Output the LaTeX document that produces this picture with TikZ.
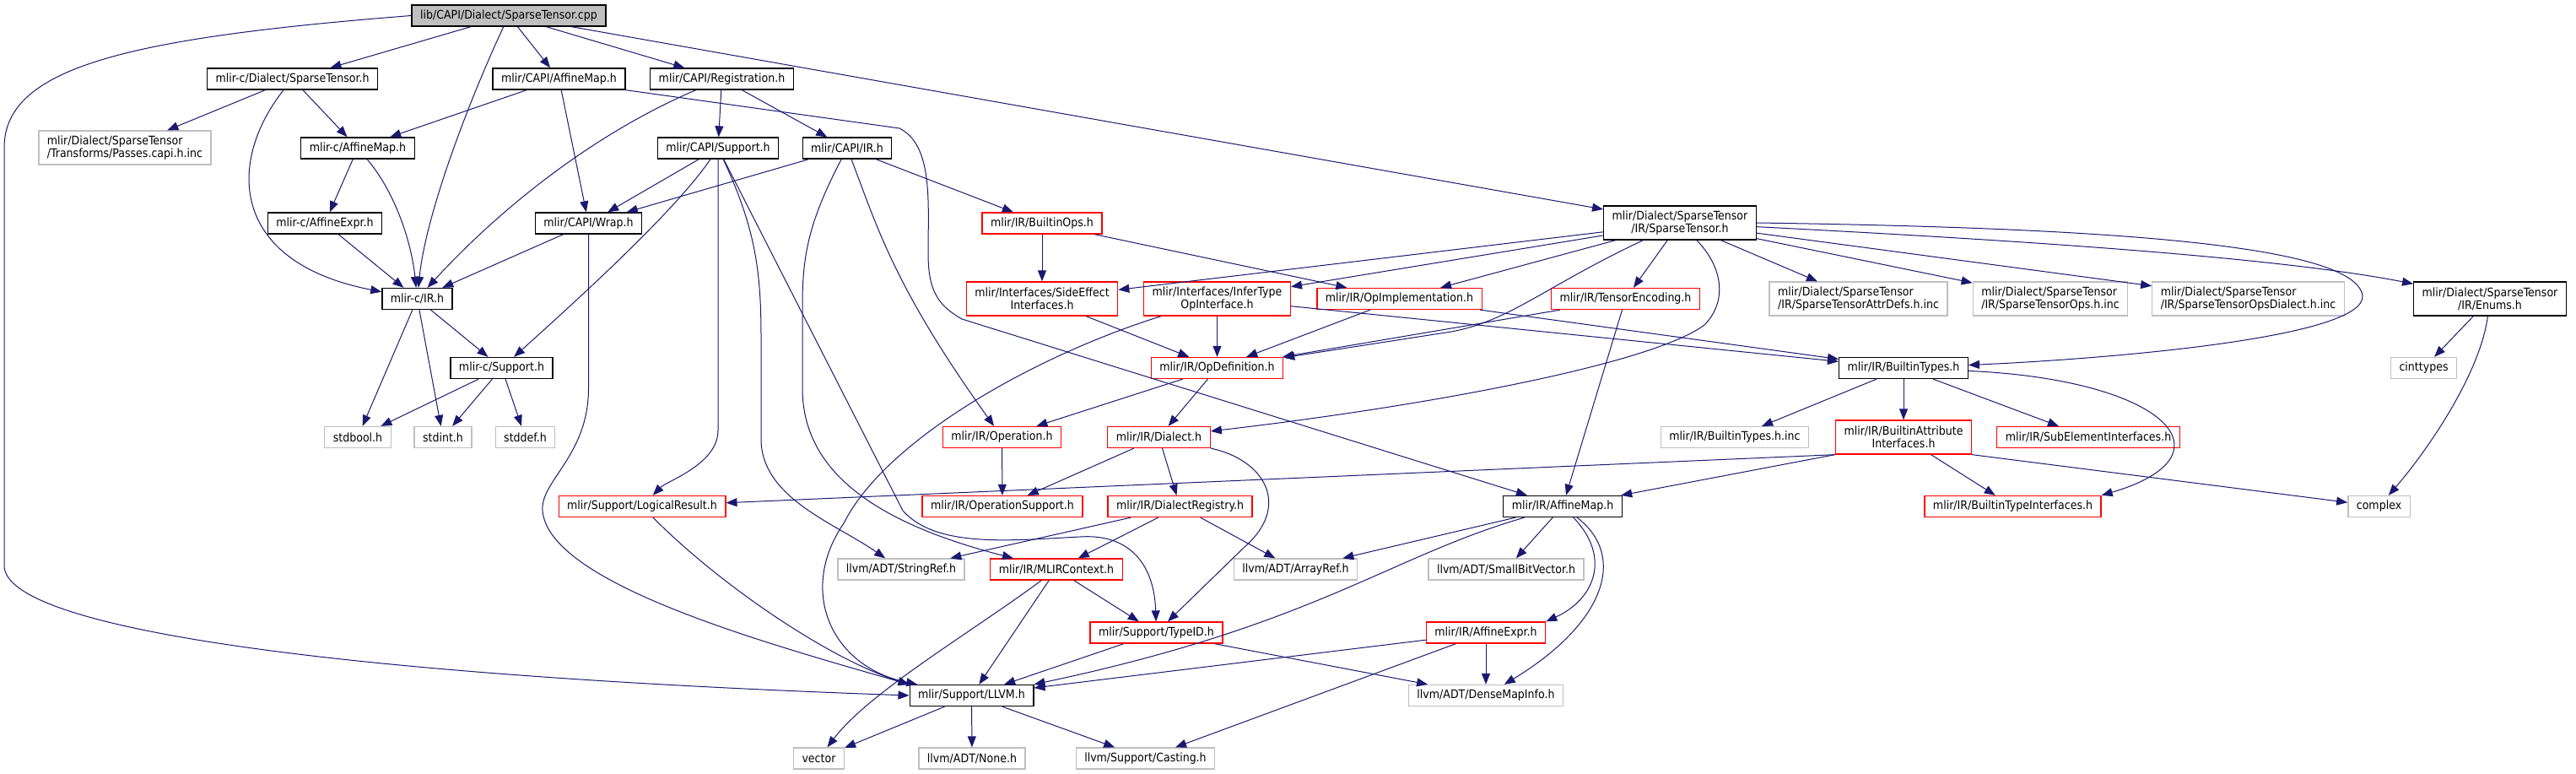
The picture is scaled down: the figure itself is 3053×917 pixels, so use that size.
\documentclass[tikz,border=0pt]{standalone}
\usepackage{fontspec}
\setmainfont{DejaVu Sans Condensed}
\usetikzlibrary{arrows.meta}
\definecolor{edgeblue}{HTML}{191970}
\definecolor{extgray}{HTML}{BFBFBF}
\definecolor{truncred}{HTML}{FF0000}
\begin{document}
\begin{tikzpicture}[x=1pt, y=-1pt,
  every node/.style={font=\fontsize{14pt}{15pt}\selectfont, inner xsep=10pt, inner ysep=2pt, minimum height=25pt, line width=1.3pt},
  hdr/.style={draw=black, fill=white},
  ext/.style={draw=extgray, fill=white},
  trunc/.style={draw=truncred, fill=white},
  src/.style={draw=black, fill=extgray},
  two/.style={minimum height=40pt},
  dep/.style={edgeblue, line width=1pt, -{Triangle[length=13pt, width=10pt]}}]
\useasboundingbox (0,0) rectangle (3053,917);

\node[src] (root) at (603,18.5) {lib/CAPI/Dialect/SparseTensor.cpp};
\node[hdr] (mcdst) at (346.5,93.5) {mlir-c/Dialect/SparseTensor.h};
\node[hdr] (capiam) at (662.5,93.5) {mlir/CAPI/AffineMap.h};
\node[hdr] (reg) at (855.5,93.5) {mlir/CAPI/Registration.h};
\node[ext, two, align=left] (passes) at (148,175) {mlir/Dialect/SparseTensor\\/Transforms/Passes.capi.h.inc};
\node[hdr] (mcam) at (424,175.5) {mlir-c/AffineMap.h};
\node[hdr] (capisup) at (851,175.5) {mlir/CAPI/Support.h};
\node[hdr] (capiir) at (1004,175.5) {mlir/CAPI/IR.h};
\node[hdr] (mcae) at (385,264.5) {mlir-c/AffineExpr.h};
\node[hdr] (wrap) at (697.5,264.5) {mlir/CAPI/Wrap.h};
\node[trunc] (bops) at (1235,264.5) {mlir/IR/BuiltinOps.h};
\node[hdr, two, align=center] (stir) at (1991,264) {mlir/Dialect/SparseTensor\\/IR/SparseTensor.h};
\node[hdr] (mcir) at (494.5,354) {mlir-c/IR.h};
\node[trunc, two, align=center] (sideeff) at (1235,354) {mlir/Interfaces/SideEffect\\Interfaces.h};
\node[trunc, two, align=center] (infert) at (1442.5,354) {mlir/Interfaces/InferType\\OpInterface.h};
\node[trunc] (opimpl) at (1658.5,354) {mlir/IR/OpImplementation.h};
\node[trunc] (tenc) at (1926.5,354) {mlir/IR/TensorEncoding.h};
\node[ext, two, align=left] (attrdefs) at (2202.5,354) {mlir/Dialect/SparseTensor\\/IR/SparseTensorAttrDefs.h.inc};
\node[ext, two, align=left] (stops) at (2430,354) {mlir/Dialect/SparseTensor\\/IR/SparseTensorOps.h.inc};
\node[ext, two, align=left] (opsdial) at (2664.5,354) {mlir/Dialect/SparseTensor\\/IR/SparseTensorOpsDialect.h.inc};
\node[hdr, two, align=center] (enums) at (2951,354) {mlir/Dialect/SparseTensor\\/IR/Enums.h};
\node[hdr] (mcsup) at (594.5,436) {mlir-c/Support.h};
\node[trunc] (opdef) at (1442.5,436) {mlir/IR/OpDefinition.h};
\node[hdr] (btypes) at (2256,436) {mlir/IR/BuiltinTypes.h};
\node[ext] (cinttypes) at (2872.5,436) {cinttypes};
\node[ext] (stdbool) at (424,518) {stdbool.h};
\node[ext] (stdint) at (525,518) {stdint.h};
\node[ext] (stddef) at (622.5,518) {stddef.h};
\node[trunc] (operation) at (1187.5,518) {mlir/IR/Operation.h};
\node[trunc] (dialect) at (1373.5,518) {mlir/IR/Dialect.h};
\node[ext] (btinc) at (2056,518) {mlir/IR/BuiltinTypes.h.inc};
\node[trunc, two, align=center] (battr) at (2256,518) {mlir/IR/BuiltinAttribute\\Interfaces.h};
\node[trunc] (subel) at (2475,518) {mlir/IR/SubElementInterfaces.h};
\node[trunc] (logres) at (761,600) {mlir/Support/LogicalResult.h};
\node[trunc] (opsup) at (1188,600) {mlir/IR/OperationSupport.h};
\node[trunc] (dreg) at (1398.5,600) {mlir/IR/DialectRegistry.h};
\node[hdr] (affmap) at (1852,600) {mlir/IR/AffineMap.h};
\node[trunc] (btint) at (2385.5,600) {mlir/IR/BuiltinTypeInterfaces.h};
\node[ext] (complex) at (2819.5,600) {complex};
\node[ext] (stref) at (1068,674.5) {llvm/ADT/StringRef.h};
\node[trunc] (ctx) at (1252,674.5) {mlir/IR/MLIRContext.h};
\node[ext] (arrref) at (1535.5,674.5) {llvm/ADT/ArrayRef.h};
\node[ext] (sbv) at (1785,674.5) {llvm/ADT/SmallBitVector.h};
\node[trunc] (typeid) at (1370.5,749.5) {mlir/Support/TypeID.h};
\node[trunc] (affexpr) at (1761,749.5) {mlir/IR/AffineExpr.h};
\node[hdr] (llvm) at (1151.5,824) {mlir/Support/LLVM.h};
\node[ext] (dmi) at (1761,824) {llvm/ADT/DenseMapInfo.h};
\node[ext] (vector) at (970.5,898.5) {vector};
\node[ext] (none) at (1152,898.5) {llvm/ADT/None.h};
\node[ext] (casting) at (1357.5,898.5) {llvm/Support/Casting.h};

% the source file
\draw[dep] (root) -- (mcdst);
\draw[dep] (root) -- (capiam);
\draw[dep] (root) -- (reg);
\draw[dep] (root) -- (stir);
\draw[dep] (root) .. controls (560,110) and (505,250) .. (mcir);
\draw[dep] (root.west) .. controls (150,45) and (5,80) .. (5,175) -- (5,670) .. controls (5,745) and (400,800) .. (llvm.west);

% C API headers
\draw[dep] (mcdst) -- (passes);
\draw[dep] (mcdst) -- (mcam);
\draw[dep] (mcdst) .. controls (270,190) and (270,310) .. (mcir);
\draw[dep] (capiam) -- (mcam);
\draw[dep] (capiam) -- (wrap);
\draw[dep] (capiam.south east) -- (1066,152) .. controls (1106,172) and (1100,240) .. (1100,300) .. controls (1100,345) and (1112,362) .. (1140,378) -- (affmap);
\draw[dep] (reg) .. controls (700,160) and (590,250) .. (mcir);
\draw[dep] (reg) -- (capisup);
\draw[dep] (reg) -- (capiir);
\draw[dep] (mcam) -- (mcae);
\draw[dep] (mcam) .. controls (470,230) and (488,290) .. (mcir);
\draw[dep] (mcae) -- (mcir);
\draw[dep] (wrap) -- (mcir);
\draw[dep] (wrap) -- (697.5,460) .. controls (697.5,540) and (640,570) .. (643,605) .. controls (650,690) and (900,760) .. (llvm.north west);
\draw[dep] (capisup) -- (wrap);
\draw[dep] (capisup) .. controls (800,250) and (690,350) .. (mcsup);
\draw[dep] (capisup) -- (851,510) .. controls (851,550) and (790,570) .. (logres);
\draw[dep] (capisup) .. controls (895,270) and (902,320) .. (902,400) -- (902,520) .. controls (902,590) and (990,620) .. (stref);
\draw[dep] (capisup) -- (1070,605) .. controls (1110,650) and (1200,640) .. (1280,636) .. controls (1340,632) and (1368,670) .. (typeid);
\draw[dep] (capiir) -- (wrap);
\draw[dep] (capiir) -- (bops);
\draw[dep] (capiir) .. controls (960,260) and (951,300) .. (951,360) -- (951,460) .. controls (951,560) and (1040,620) .. (ctx);
\draw[dep] (capiir) .. controls (1040,270) and (1060,340) .. (operation);
\draw[dep] (mcir) -- (stdbool);
\draw[dep] (mcir) -- (stdint);
\draw[dep] (mcir) -- (mcsup);
\draw[dep] (mcsup) -- (stdbool);
\draw[dep] (mcsup) -- (stdint);
\draw[dep] (mcsup) -- (stddef);

% dialect headers
\draw[dep] (bops) -- (sideeff);
\draw[dep] (bops) -- (opimpl);
\draw[dep] (stir) -- (sideeff);
\draw[dep] (stir) -- (infert);
\draw[dep] (stir) -- (opimpl);
\draw[dep] (stir) .. controls (1830,340) and (1790,380) .. (1720,393) -- (opdef);
\draw[dep] (stir) -- (tenc);
\draw[dep] (stir) .. controls (2045,320) and (2045,360) .. (2020,385) .. controls (1960,430) and (1700,480) .. (dialect);
\draw[dep] (stir) -- (attrdefs);
\draw[dep] (stir) -- (stops);
\draw[dep] (stir) -- (opsdial);
\draw[dep] (stir) .. controls (2400,285) and (2700,305) .. (enums);
\draw[dep] (stir.east) .. controls (2500,270) and (2790,290) .. (2800,350) .. controls (2805,400) and (2500,425) .. (btypes);
\draw[dep] (sideeff) -- (opdef);
\draw[dep] (infert) -- (opdef);
\draw[dep] (infert) .. controls (1230,420) and (1050,520) .. (1000,620) .. controls (945,700) and (985,790) .. (llvm);
\draw[dep] (infert) -- (btypes);
\draw[dep] (opimpl) -- (opdef);
\draw[dep] (opimpl) -- (btypes);
\draw[dep] (tenc) -- (opdef);
\draw[dep] (tenc) -- (affmap);
\draw[dep] (enums) -- (cinttypes);
\draw[dep] (enums) .. controls (2940,440) and (2880,530) .. (complex);

% IR core
\draw[dep] (opdef) -- (operation);
\draw[dep] (opdef) -- (dialect);
\draw[dep] (operation) -- (opsup);
\draw[dep] (dialect) -- (opsup);
\draw[dep] (dialect) -- (dreg);
\draw[dep] (dialect) .. controls (1500,545) and (1530,600) .. (1475,648) -- (typeid);
\draw[dep] (dreg) -- (stref);
\draw[dep] (dreg) -- (ctx);
\draw[dep] (dreg) -- (arrref);
\draw[dep] (ctx) .. controls (1150,750) and (1030,820) .. (vector);
\draw[dep] (ctx) -- (llvm);
\draw[dep] (ctx) -- (typeid);
\draw[dep] (typeid) -- (llvm);
\draw[dep] (typeid) -- (dmi);
\draw[dep] (logres) .. controls (850,690) and (980,780) .. (llvm.north west);
\draw[dep] (btypes) -- (btinc);
\draw[dep] (btypes) -- (battr);
\draw[dep] (btypes) -- (subel);
\draw[dep] (btypes) .. controls (2570,450) and (2650,540) .. (btint.north east);
\draw[dep] (battr.south west) -- (logres);
\draw[dep] (battr.south west) -- (affmap);
\draw[dep] (battr) -- (btint);
\draw[dep] (battr.south east) -- (complex);
\draw[dep] (affmap) -- (arrref);
\draw[dep] (affmap) -- (sbv);
\draw[dep] (affmap) .. controls (1645,660) and (1560,740) .. (llvm.north east);
\draw[dep] (affmap) .. controls (1910,660) and (1890,710) .. (affexpr.north east);
\draw[dep] (affmap) .. controls (1930,660) and (1900,740) .. (dmi);
\draw[dep] (affexpr) -- (llvm);
\draw[dep] (affexpr) -- (dmi);
\draw[dep] (affexpr) -- (casting);
\draw[dep] (llvm) -- (vector);
\draw[dep] (llvm) -- (none);
\draw[dep] (llvm) -- (casting);

\end{tikzpicture}
\end{document}
